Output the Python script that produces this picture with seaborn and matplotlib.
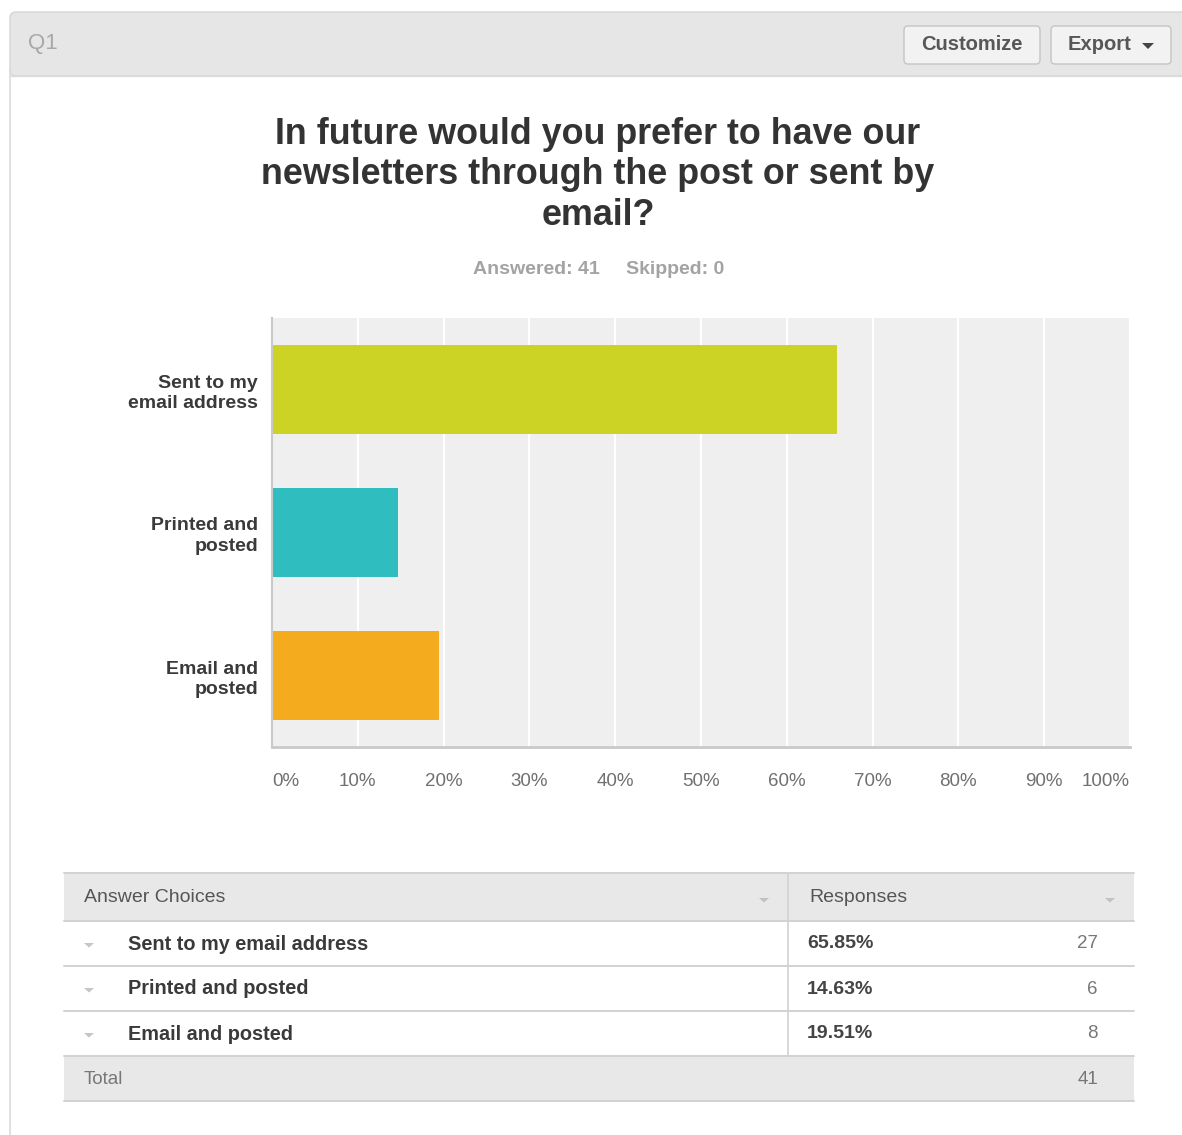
import matplotlib
matplotlib.use("Agg")
import matplotlib.pyplot as plt
from matplotlib.patches import FancyBboxPatch, Rectangle, Polygon
import seaborn as sns
import pandas as pd

# --- survey data -----------------------------------------------------------
question = "In future would you prefer to have our\nnewsletters through the post or sent by\nemail?"
choices = ["Sent to my email address", "Printed and posted", "Email and posted"]
axis_labels = ["Sent to my\nemail address", "Printed and\nposted", "Email and\nposted"]
percents = [65.85, 14.63, 19.51]
counts = [27, 6, 8]
answered = 41
skipped = 0
bar_colors = ["#cdd325", "#2fbdbf", "#f4ac1e"]
x_ticks = [0, 10, 20, 30, 40, 50, 60, 70, 80, 90, 100]

sns.set_theme(style="white")
plt.rcParams["font.family"] = ["Liberation Sans", "DejaVu Sans"]

W, H = 1182, 1135
fig = plt.figure(figsize=(W / 100, H / 100), dpi=100)
fig.patch.set_facecolor("white")

# page furniture drawn in pixel coordinates
bg = fig.add_axes([0, 0, 1, 1], zorder=0)
bg.set_xlim(0, W)
bg.set_ylim(H, 0)
bg.axis("off")

# panel header bar
bg.add_patch(FancyBboxPatch((10, 12), 1200, 64, boxstyle="round,pad=0,rounding_size=6",
                            fc="#e6e6e6", ec="#d6d6d6", lw=1))
bg.plot([10, 10], [70, H], color="#dadada", lw=1.2)
bg.plot([10, W], [76, 76], color="#dcdcdc", lw=1)
bg.text(28, 44, "Q1", fontsize=16, color="#a8a8a8", va="center", ha="left")

# header buttons
for x0, x1 in [(904, 1040), (1051, 1171)]:
    bg.add_patch(FancyBboxPatch((x0, 26), x1 - x0, 38, boxstyle="round,pad=0,rounding_size=4",
                                fc="#f2f2f2", ec="#c4c4c4", lw=1))
bg.text(972, 45, "Customize", fontsize=14.5, color="#3c3c3c", weight="bold",
        ha="center", va="center", alpha=0.85)
bg.text(1068, 45, "Export", fontsize=14.5, color="#3c3c3c", weight="bold",
        ha="left", va="center", alpha=0.85)
bg.add_patch(Polygon([[1142, 43], [1154, 43], [1148, 49]], closed=True, fc="#444444", ec="none"))

# title block
bg.text(598, 175, question, fontsize=25.8, weight="bold", color="#333333",
        ha="center", va="center", linespacing=1.2)
bg.text(600, 270, f"Answered: {answered}", fontsize=14, weight="bold", color="#a3a3a3",
        ha="right", va="center")
bg.text(626, 270, f"Skipped: {skipped}", fontsize=14, weight="bold", color="#a3a3a3",
        ha="left", va="center")

# --- bar chart -------------------------------------------------------------
left, right, top, bottom = 272, 1130, 318, 747
ax = fig.add_axes([left / W, 1 - bottom / H, (right - left) / W, (bottom - top) / H], zorder=2)
df = pd.DataFrame({"label": axis_labels, "pct": percents})
sns.barplot(data=df, y="label", x="pct", hue="label", palette=bar_colors,
            order=axis_labels, hue_order=axis_labels, legend=False,
            width=0.62, saturation=1, linewidth=0, ax=ax, orient="h")
ax.set_facecolor("#efefef")
ax.set_xlim(0, 100)
ax.set_ylim(2.5, -0.5)
ax.set_axisbelow(True)
ax.set_xticks(x_ticks)
ax.xaxis.grid(True, color="white", lw=1.6)
ax.yaxis.grid(False)
ax.set_xlabel("")
ax.set_ylabel("")
for s in ["top", "right"]:
    ax.spines[s].set_visible(False)
ax.spines["left"].set_color("#c9c9c9")
ax.spines["left"].set_linewidth(1.5)
ax.spines["bottom"].set_color("#c9c9c9")
ax.spines["bottom"].set_linewidth(2)
ax.tick_params(axis="both", length=0)
ax.tick_params(axis="y", pad=10)
ax.tick_params(axis="x", pad=19)
ax.set_xticklabels([f"{t}%" for t in x_ticks], fontsize=13.5, color="#707070")
for lab in ax.get_yticklabels():
    lab.set_fontsize(14)
    lab.set_fontweight("bold")
    lab.set_color("#3a3a3a")
    lab.set_linespacing(1.25)
xt = ax.get_xticklabels()
xt[0].set_ha("left")
xt[-1].set_ha("right")

# --- summary table ---------------------------------------------------------
tx0, tx1, tdiv = 64, 1134, 788
row_top = [873, 921, 966, 1011, 1056, 1101]
bg.add_patch(Rectangle((tx0, 873), tx1 - tx0, 48, fc="#e8e8e8", ec="none"))
bg.add_patch(Rectangle((tx0, 1056), tx1 - tx0, 45, fc="#e8e8e8", ec="none"))
for y in row_top:
    bg.plot([tx0, tx1], [y, y], color="#d2d2d2", lw=1.4)
bg.plot([tdiv, tdiv], [873, 1056], color="#d2d2d2", lw=1.2)


def caret(x, y, color="#c2c2c2", s=5):
    bg.add_patch(Polygon([[x - s, y - 2], [x + s, y - 2], [x, y + 2.5]], closed=True,
                         fc=color, ec="none"))


bg.text(84, 898, "Answer Choices", fontsize=14, color="#555555", ha="left", va="center")
bg.text(809, 898, "Responses", fontsize=14, color="#555555", ha="left", va="center")
caret(764, 900)
caret(1110, 900)

row_centers = [944, 989, 1034]
for yc, name, pct, n in zip(row_centers, choices, percents, counts):
    caret(89, yc + 1, color="#c6c6c6")
    bg.text(128, yc, name, fontsize=14.3, weight="bold", color="#3a3a3a", ha="left", va="center")
    bg.text(807, yc, f"{pct:.2f}%", fontsize=14, weight="bold", color="#444444", ha="left", va="center")
    bg.text(1098, yc, str(n), fontsize=13.5, color="#777777", ha="right", va="center")

bg.text(84, 1079, "Total", fontsize=13.5, color="#777777", ha="left", va="center")
bg.text(1098, 1079, str(sum(counts)), fontsize=13.5, color="#777777", ha="right", va="center")

fig.savefig("out.png", dpi=100, facecolor="white")
